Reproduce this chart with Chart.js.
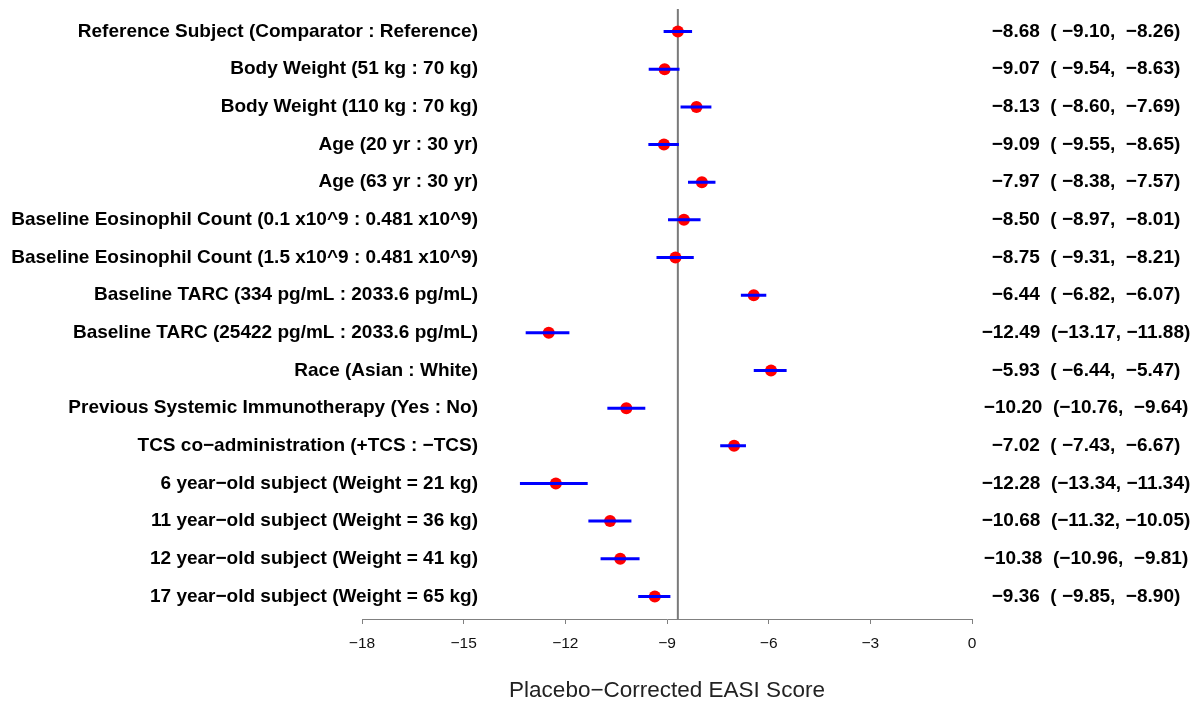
<!DOCTYPE html>
<html>
<head>
<meta charset="utf-8">
<title>Placebo-Corrected EASI Score</title>
<script src="https://cdn.jsdelivr.net/npm/chart.js@4.4.1/dist/chart.umd.min.js"></script>
<style>
  html, body { margin: 0; padding: 0; background: #ffffff; }
  #wrap { width: 1202px; height: 702px; position: relative; }
</style>
</head>
<body>
<div id="wrap"><canvas id="forest" width="1202" height="702"></canvas></div>
<script>
// Covariate scenarios, top to bottom
const categories = [
  'Reference Subject (Comparator : Reference)',
  'Body Weight (51 kg : 70 kg)',
  'Body Weight (110 kg : 70 kg)',
  'Age (20 yr : 30 yr)',
  'Age (63 yr : 30 yr)',
  'Baseline Eosinophil Count (0.1 x10^9 : 0.481 x10^9)',
  'Baseline Eosinophil Count (1.5 x10^9 : 0.481 x10^9)',
  'Baseline TARC (334 pg/mL : 2033.6 pg/mL)',
  'Baseline TARC (25422 pg/mL : 2033.6 pg/mL)',
  'Race (Asian : White)',
  'Previous Systemic Immunotherapy (Yes : No)',
  'TCS co\u2212administration (+TCS : \u2212TCS)',
  '6 year\u2212old subject (Weight = 21 kg)',
  '11 year\u2212old subject (Weight = 36 kg)',
  '12 year\u2212old subject (Weight = 41 kg)',
  '17 year\u2212old subject (Weight = 65 kg)'
];

// Point estimates and 95% interval bounds
const estimate = [-8.68, -9.07, -8.13, -9.09, -7.97, -8.50, -8.75, -6.44, -12.49, -5.93, -10.20, -7.02, -12.28, -10.68, -10.38, -9.36];
const lower    = [-9.10, -9.54, -8.60, -9.55, -8.38, -8.97, -9.31, -6.82, -13.17, -6.44, -10.76, -7.43, -13.34, -11.32, -10.96, -9.85];
const upper    = [-8.26, -8.63, -7.69, -8.65, -7.57, -8.01, -8.21, -6.07, -11.88, -5.47, -9.64, -6.67, -11.34, -10.05, -9.81, -8.90];

const xTicks = [-18, -15, -12, -9, -6, -3, 0];

const FONT = '"Liberation Sans", Arial, Helvetica, sans-serif';
const MINUS = '\u2212';

function fmt(v) { return v.toFixed(2).replace('-', MINUS); }
function pad6(v) { const s = fmt(v); return s.length < 6 ? ' '.repeat(6 - s.length) + s : s; }
function ciText(i) { return fmt(estimate[i]) + '  (' + pad6(lower[i]) + ', ' + pad6(upper[i]) + ')'; }

const yMin = -0.6, yMax = categories.length - 1 + 0.6;

// interval segments, broken between rows
const ciData = [];
categories.forEach((c, i) => {
  ciData.push({ x: lower[i], y: i }, { x: upper[i], y: i }, { x: null, y: null });
});

// Row labels on the left and estimate text on the right
const rowText = {
  id: 'rowText',
  afterDraw(chart) {
    const ctx = chart.ctx;
    const ys = chart.scales.y;
    ctx.save();
    ctx.fillStyle = '#000000';
    ctx.font = 'bold 19px ' + FONT;
    ctx.textBaseline = 'middle';
    categories.forEach((c, i) => {
      const y = ys.getPixelForValue(i);
      ctx.textAlign = 'right';
      ctx.fillText(c, 478, y);
      ctx.textAlign = 'center';
      ctx.fillText(ciText(i), 1086, y);
    });
    ctx.restore();
  }
};

new Chart(document.getElementById('forest'), {
  type: 'scatter',
  data: {
    datasets: [
      {
        label: 'interval',
        data: ciData,
        showLine: true,
        spanGaps: false,
        borderColor: '#0000ff',
        borderWidth: 3,
        pointRadius: 0,
        order: 0
      },
      {
        label: 'estimate',
        data: estimate.map((v, i) => ({ x: v, y: i })),
        showLine: false,
        backgroundColor: '#ff0000',
        borderWidth: 0,
        pointRadius: 6,
        order: 1
      },
      {
        label: 'reference',
        data: [{ x: estimate[0], y: yMin }, { x: estimate[0], y: yMax }],
        showLine: true,
        borderColor: '#7a7a7a',
        borderWidth: 2,
        pointRadius: 0,
        order: 2
      }
    ]
  },
  options: {
    responsive: false,
    animation: false,
    events: [],
    layout: { padding: { left: 362, right: 230, top: 9, bottom: 0 } },
    plugins: { legend: { display: false }, tooltip: { enabled: false } },
    scales: {
      x: {
        type: 'linear',
        min: -18,
        max: 0,
        afterBuildTicks(scale) { scale.ticks = xTicks.map(v => ({ value: v })); },
        afterFit(scale) { scale.height = 83; },
        grid: { display: true, drawOnChartArea: false, drawTicks: true, tickLength: 5, color: '#808080', lineWidth: 1 },
        border: { display: true, color: '#808080', width: 1 },
        ticks: {
          color: '#111111',
          padding: 10,
          maxRotation: 0,
          font: { family: FONT, size: 15.5 },
          callback: v => String(v).replace('-', MINUS)
        },
        title: {
          display: true,
          text: 'Placebo\u2212Corrected EASI Score',
          color: '#222222',
          font: { family: FONT, size: 22.5 },
          padding: { top: 0, bottom: -2 }
        }
      },
      y: {
        type: 'linear',
        min: yMin,
        max: yMax,
        reverse: true,
        display: false
      }
    }
  },
  plugins: [rowText]
});
</script>
</body>
</html>
